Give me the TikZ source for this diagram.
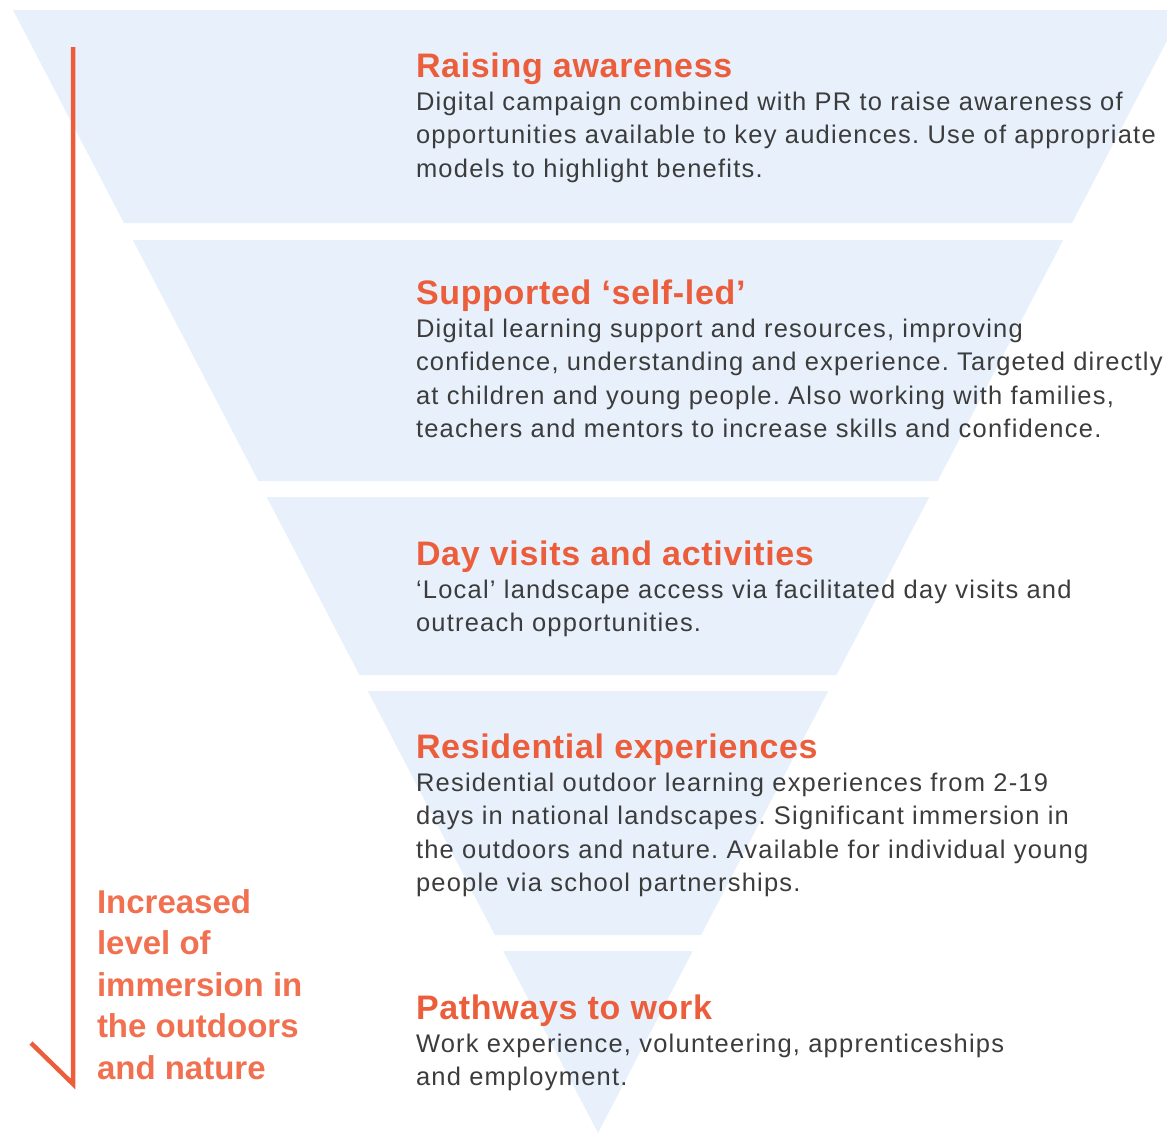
\documentclass[tikz,border=0pt]{standalone}
\usepackage{fontspec}
\setmainfont{Liberation Sans}
\newfontfamily\bodyfam[LetterSpace=4.8]{Liberation Sans}
\newfontfamily\headfam[LetterSpace=2.0]{Liberation Sans}
\definecolor{bandfill}{RGB}{232,241,251}
\definecolor{headorange}{RGB}{236,94,59}
\definecolor{sideorange}{RGB}{240,112,80}
\definecolor{bodygray}{RGB}{60,60,60}
\frenchspacing
\newcommand{\hdfont}{\headfam\fontsize{34}{34}\selectfont\bfseries}
\newcommand{\bdfont}{\bodyfam\fontsize{25.5}{33.6}\selectfont}
\newcommand{\sdfont}{\fontsize{33}{41.5}\selectfont\bfseries}
\newcommand{\bandtext}[2]{\vtop{\bdfont\baselineskip=33.6pt\lineskiplimit=-100pt\lineskip=0pt
  \hbox{\color{headorange}\hdfont #1}\vskip-0.5pt
  \color{bodygray}#2}}
\begin{document}
\begin{tikzpicture}[x=1pt,y=-1pt,
  band/.style={fill=bandfill,draw=none},
  txtblock/.style={anchor=base west,inner sep=0pt,outer sep=0pt},
  arrowline/.style={draw=headorange,line width=4.5pt,line join=miter,line cap=butt}]
\useasboundingbox (0,0) rectangle (1167,1133);
% funnel bands
\path[band] (13,10) -- (1183,10) -- (1072.04,223) -- (123.96,223) -- cycle;
\path[band] (132.81,240) -- (1063.19,240) -- (937.64,481) -- (258.36,481) -- cycle;
\path[band] (266.69,497) -- (929.31,497) -- (836.58,675) -- (359.42,675) -- cycle;
\path[band] (367.75,691) -- (828.25,691) -- (701.14,935) -- (494.86,935) -- cycle;
\path[band] (503.19,951) -- (692.81,951) -- (598,1133) -- cycle;
% texts
\node[txtblock] (t1) at (416,77) {\bandtext{Raising awareness}{%
  \hbox{Digital campaign combined with PR to raise awareness of}
  \hbox{opportunities available to key audiences. Use of appropriate}
  \hbox{models to highlight benefits.}}};
\node[txtblock] (t2) at (416,304) {\bandtext{Supported ‘self-led’}{%
  \hbox{Digital learning support and resources, improving}
  \hbox{confidence, understanding and experience. Targeted directly}
  \hbox{at children and young people. Also working with families,}
  \hbox{teachers and mentors to increase skills and confidence.}}};
\node[txtblock] (t3) at (416,565) {\bandtext{Day visits and activities}{%
  \hbox{‘Local’ landscape access via facilitated day visits and}
  \hbox{outreach opportunities.}}};
\node[txtblock] (t4) at (416,758) {\bandtext{Residential experiences}{%
  \hbox{Residential outdoor learning experiences from 2-19}
  \hbox{days in national landscapes. Significant immersion in}
  \hbox{the outdoors and nature. Available for individual young}
  \hbox{people via school partnerships.}}};
\node[txtblock] (t5) at (416,1019) {\bandtext{Pathways to work}{%
  \hbox{Work experience, volunteering, apprenticeships}
  \hbox{and employment.}}};
% side label
\node[txtblock,text=sideorange,font=\sdfont] (side) at (97,913) {\vtop{\sdfont\baselineskip=41.5pt\lineskiplimit=-100pt\lineskip=0pt
  \hbox{Increased}\hbox{level of}\hbox{immersion in}\hbox{the outdoors}\hbox{and nature}}};
% arrow
\coordinate (atop) at (73,47);
\coordinate (abot) at (73,1084);
\coordinate (abarb) at (31,1043);
\draw[arrowline] (atop) -- (abot) -- (abarb);
\end{tikzpicture}
\end{document}
